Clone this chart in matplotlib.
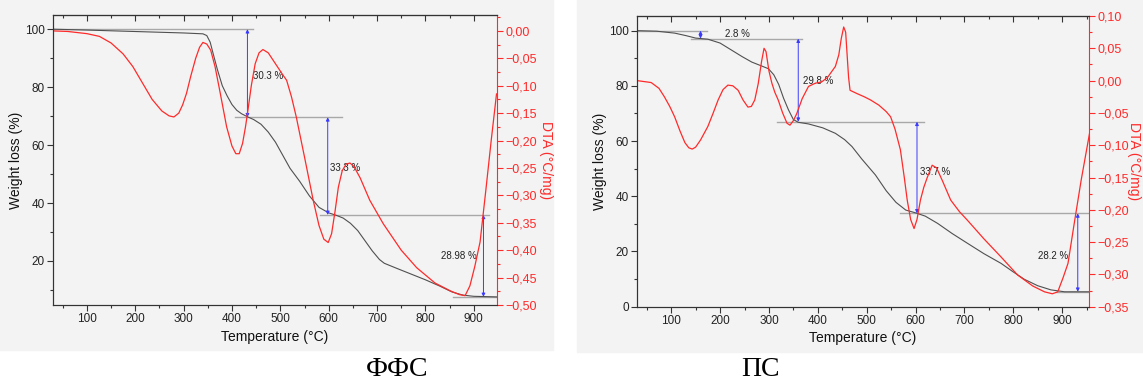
import matplotlib.pyplot as plt
import matplotlib.patches as mpatches
from matplotlib.ticker import MultipleLocator, FuncFormatter

# ---- ФФС (left) ----
ffs_tg_t = [30, 100, 200, 300, 340, 348, 355, 362, 370, 380, 390, 400, 410, 420, 433, 445,
            460, 475, 490, 505, 520, 540, 560, 580, 600, 615, 630, 645, 660, 675, 690, 705,
            715, 740, 770, 800, 830, 855, 878, 900, 947]
ffs_tg = [100, 99.7, 99.2, 98.7, 98.4, 97.8, 95.5, 91, 86, 80.5, 77, 74, 72, 70.8, 69.7, 68.8,
          67.2, 64.5, 61, 56.5, 52, 47.5, 42.5, 38.5, 36.6, 35.8, 34.8, 33, 30.5, 27, 23.5, 20.5,
          19.2, 17.5, 15.5, 13.5, 11.3, 9.3, 8.2, 7.8, 7.6]
ffs_dta_t = [30, 60, 100, 126, 150, 175, 195, 215, 235, 255, 270, 280, 290, 298, 306, 315, 325,
             333, 340, 348, 356, 365, 375, 389, 400, 408, 415, 422, 428, 433, 440, 448, 456,
             464, 475, 490, 505, 513, 523, 533, 550, 568, 580, 590, 599, 606, 613, 620, 628,
             636, 644, 652, 665, 685, 713, 750, 782, 820, 851, 870, 882, 892, 902, 913, 925,
             936, 947]
ffs_dta = [0, -0.001, -0.005, -0.010, -0.022, -0.042, -0.065, -0.095, -0.125, -0.146, -0.155,
           -0.157, -0.150, -0.135, -0.114, -0.082, -0.050, -0.030, -0.021, -0.024, -0.035,
           -0.065, -0.110, -0.175, -0.210, -0.224, -0.224, -0.205, -0.175, -0.145, -0.100,
           -0.060, -0.040, -0.034, -0.040, -0.060, -0.080, -0.090, -0.120, -0.157, -0.230,
           -0.309, -0.355, -0.380, -0.386, -0.370, -0.330, -0.285, -0.255, -0.243, -0.241,
           -0.247, -0.268, -0.309, -0.352, -0.400, -0.432, -0.460, -0.474, -0.481, -0.483,
           -0.465, -0.430, -0.385, -0.290, -0.200, -0.115]
ffs_levels = [100, 69.6, 35.9, 7.6]
ffs_arrow_t = [432, 598, 920]
ffs_labels = ["30.3 %", "33.3 %", "28.98 %"]
ffs_label_pos = [(443, 84), (603, 52), (832, 21.6)]
ffs_line_spans = [(30, 444), (406, 628), (582, 932), (857, 948)]

# ---- ПС (right) ----
ps_tg_t = [30, 70, 107, 130, 150, 175, 200, 223, 245, 265, 285, 299, 310, 320, 330, 340, 350,
           360, 381, 410, 436, 455, 470, 490, 518, 540, 560, 580, 600, 620, 645, 675, 706, 740,
           775, 800, 823, 850, 877, 905, 955]
ps_tg = [100, 99.8, 99.1, 98.2, 97.3, 96.9, 95.5, 93, 90.6, 88.6, 87.2, 86.2, 84, 80.5, 75.5,
         71.3, 67.8, 66.8, 66.2, 64.8, 62.8, 60.5, 58, 53.5, 47.7, 42, 37.8, 35, 34, 32.8, 30.2,
         26.5, 23.0, 19.2, 15.7, 12.6, 9.9, 7.6, 6.1, 5.4, 5.4]
ps_dta_t = [30, 59, 75, 86, 97, 107, 118, 128, 136, 143, 150, 160, 175, 186, 196, 206, 216, 226,
            237, 247, 257, 264, 271, 278, 285, 290, 294, 300, 306, 312, 319, 328, 337, 343, 350,
            357, 368, 381, 395, 408, 420, 436, 443, 448, 453, 457, 460, 463, 466, 480, 495, 508,
            525, 540, 549, 558, 569, 577, 583, 590, 597, 603, 610, 617, 624, 634, 643, 655, 672,
            690, 706, 740, 775, 809, 840, 864, 880, 891, 902, 912, 925, 939, 956]
ps_dta = [0.0, -0.003, -0.012, -0.025, -0.040, -0.056, -0.078, -0.096, -0.104, -0.106, -0.103,
          -0.092, -0.071, -0.050, -0.030, -0.014, -0.007, -0.008, -0.015, -0.030, -0.041, -0.040,
          -0.030, -0.005, 0.030, 0.050, 0.045, 0.015, -0.004, -0.018, -0.030, -0.050, -0.066,
          -0.069, -0.062, -0.051, -0.028, -0.009, -0.004, -0.002, 0.005, 0.022, 0.040, 0.065,
          0.083, 0.075, 0.040, 0.005, -0.015, -0.020, -0.025, -0.030, -0.038, -0.048, -0.056,
          -0.075, -0.107, -0.150, -0.185, -0.215, -0.229, -0.215, -0.185, -0.165, -0.150,
          -0.131, -0.135, -0.155, -0.185, -0.203, -0.216, -0.245, -0.273, -0.301, -0.318,
          -0.327, -0.330, -0.327, -0.305, -0.283, -0.220, -0.154, -0.082]
ps_levels = [100, 97.1, 67.0, 33.8, 5.4]
ps_arrow_t = [160, 360, 603, 932]
ps_labels = ["2.8 %", "29.8 %", "33.7 %", "28.2 %"]
ps_label_pos = [(210, 98.7), (370, 81.9), (610, 48.9), (850, 18.4)]
ps_line_spans = [(30, 174), (141, 368), (316, 617), (568, 956), (888, 956)]

plt.rcParams["font.family"] = ["Liberation Sans", "DejaVu Sans"]
fig = plt.figure(figsize=(11.43, 3.85), dpi=100)
bg = "#f3f3f3"
fig.patches.append(mpatches.Rectangle((0, 1 - 350 / 385), 553 / 1143, 350 / 385,
                                      transform=fig.transFigure, color=bg, zorder=-10))
fig.patches.append(mpatches.Rectangle((577 / 1143, 1 - 352 / 385), 566 / 1143, 352 / 385,
                                      transform=fig.transFigure, color=bg, zorder=-10))

dark = "#333333"
red = "#ff2a2a"


def panel(rect, tg_t, tg, dta_t, dta, levels, arrow_t, labels, label_pos, spans,
          xlim, ylim, yticks, dlim, dstep, ylab_x, dlab_x):
    ax = fig.add_axes(rect)
    ax.set_facecolor("none")
    ax2 = ax.twinx()
    ax2.set_facecolor("none")
    ax.plot(tg_t, tg, color="#505050", lw=0.8)
    ax2.plot(dta_t, dta, color=red, lw=0.9)
    for (a, b), lev in zip(spans, levels):
        ax.plot([a, b], [lev, lev], color="#a8a8a8", lw=1.0, zorder=1)
    for t, top, bot in zip(arrow_t, levels[:-1], levels[1:]):
        ax.annotate("", xy=(t, bot), xytext=(t, top),
                    arrowprops=dict(arrowstyle="<|-|>", color="#3a3aff", lw=0.7,
                                    mutation_scale=5, shrinkA=0, shrinkB=0))
    for lab, (lx, ly) in zip(labels, label_pos):
        ax.text(lx, ly, lab, fontsize=7, color="#222222", va="center", ha="left")
    ax.set_xlim(*xlim)
    ax.set_ylim(*ylim)
    ax2.set_ylim(*dlim)
    ax.set_yticks(yticks)
    ax.xaxis.set_major_locator(MultipleLocator(100))
    ax.xaxis.set_minor_locator(MultipleLocator(50))
    ax.yaxis.set_minor_locator(MultipleLocator(10))
    ax2.yaxis.set_major_locator(MultipleLocator(dstep))
    ax2.yaxis.set_minor_locator(MultipleLocator(dstep / 2))
    ax2.yaxis.set_major_formatter(FuncFormatter(
        lambda v, p: ("\u2212" if v < -1e-9 else "") + f"{abs(v):.2f}".replace(".", ",")))
    for s in ["left", "bottom", "top"]:
        ax.spines[s].set_color(dark)
        ax2.spines[s].set_color(dark)
    ax.spines["right"].set_visible(False)
    ax2.spines["right"].set_color(red)
    ax.tick_params(which="major", length=4, width=0.8, color=dark, labelsize=8.5,
                   labelcolor="#222222", pad=2)
    ax.tick_params(which="minor", length=2, width=0.8, color=dark)
    ax2.tick_params(axis="y", which="major", length=4, width=0.8, colors=red,
                    labelsize=9, pad=2)
    ax2.tick_params(axis="y", which="minor", length=2, width=0.8, colors=red)
    top = ax.secondary_xaxis("top")
    top.xaxis.set_major_locator(MultipleLocator(100))
    top.xaxis.set_minor_locator(MultipleLocator(50))
    top.tick_params(which="major", direction="in", length=4, width=0.8, color=dark,
                    labeltop=False)
    top.tick_params(which="minor", direction="in", length=2, width=0.8, color=dark)
    top.spines["top"].set_color(dark)
    ax.set_xlabel("Temperature (\u00b0C)", fontsize=10, color="#111111", labelpad=3)
    fig.text(ylab_x, rect[1] + rect[3] / 2, "Weight loss (%)", rotation=90, fontsize=10,
             ha="center", va="center", color="#111111")
    fig.text(dlab_x, rect[1] + rect[3] / 2, "DTA (\u00b0C/mg)", rotation=270, fontsize=10,
             ha="center", va="center", color=red)
    return ax


panel([53 / 1143, 1 - 305 / 385, 444 / 1143, 290 / 385],
      ffs_tg_t, ffs_tg, ffs_dta_t, ffs_dta, ffs_levels, ffs_arrow_t, ffs_labels,
      ffs_label_pos, ffs_line_spans, (30, 948), (4.8, 104.9), [20, 40, 60, 80, 100],
      (-0.5, 0.029), 0.05, 16 / 1143, 546 / 1143)
panel([637 / 1143, 1 - 306.7 / 385, 452 / 1143, 290.7 / 385],
      ps_tg_t, ps_tg, ps_dta_t, ps_dta, ps_levels, ps_arrow_t, ps_labels,
      ps_label_pos, ps_line_spans, (30, 955), (0, 105.3), [0, 20, 40, 60, 80, 100],
      (-0.35, 0.10), 0.05, 600 / 1143, 1134 / 1143)

fig.text(397 / 1143, 1 - 370 / 385, "\u0424\u0424\u0421", fontsize=20, family="Liberation Serif",
         ha="center", va="center")
fig.text(760 / 1143, 1 - 370 / 385, "\u041f\u0421", fontsize=20, family="Liberation Serif",
         ha="center", va="center")

fig.savefig("out.png", dpi=100)
